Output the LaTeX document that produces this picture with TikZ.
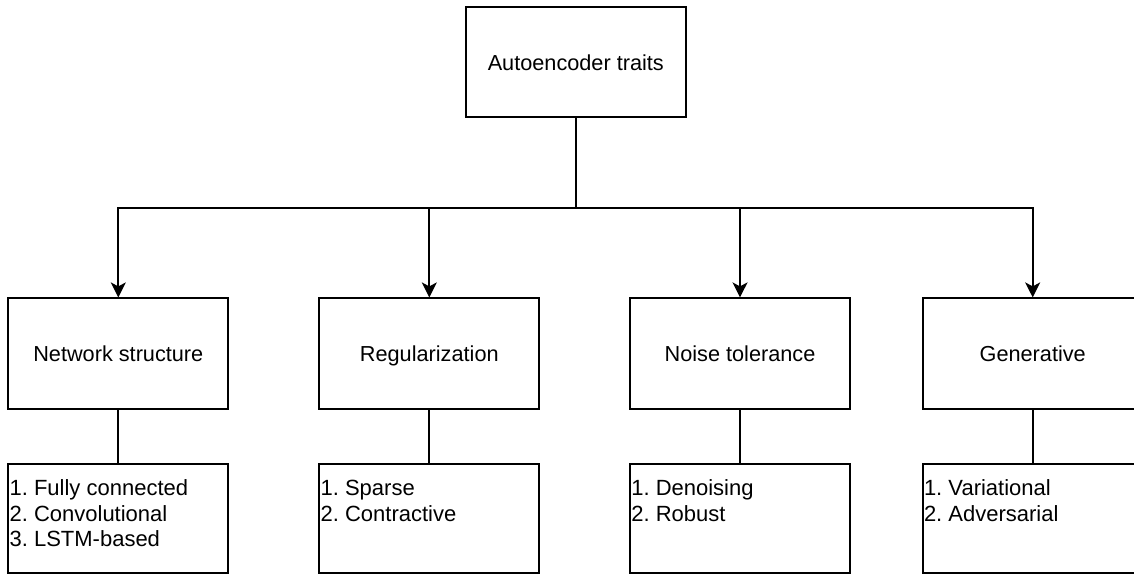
\documentclass[tikz,border=0pt]{standalone}
\usepackage{fontspec}
\setmainfont{Liberation Sans}
\frenchspacing
\usetikzlibrary{arrows.meta,calc}
\begin{document}
\begin{tikzpicture}[x=1pt,y=-1pt,
  box/.style={draw=black, line width=1.8pt, minimum width=220pt, inner sep=0pt, font=\fontsize{21.7}{25}\selectfont},
  midbox/.style={box, minimum height=111pt, text height=18pt, text depth=2pt},
  listbox/.style={box, minimum height=109pt},
  listtext/.style={anchor=north west, inner sep=0pt, align=left, font=\fontsize{22}{25.3}\selectfont},
  conn/.style={line width=1.8pt, -{Stealth[length=15pt,width=15pt,inset=4pt]}},
  link/.style={line width=1.8pt}]
\useasboundingbox (0,0) rectangle (1134,574);
\clip (0,0) rectangle (1134,574);
\node[box, minimum height=110pt, text height=18pt, text depth=2pt] (top) at (575.8,62) {Autoencoder traits};
\node[midbox] (c1) at (118.3,353.8) {Network structure};
\node[midbox] (c2) at (429.3,353.8) {Regularization};
\node[midbox] (c3) at (740,353.8) {Noise tolerance};
\node[midbox] (c4) at (1032.7,353.8) {Generative};
\node[listbox] (l1) at (118.3,518.5) {};
\node[listbox] (l2) at (429.3,518.5) {};
\node[listbox] (l3) at (740,518.5) {};
\node[listbox] (l4) at (1032.7,518.5) {};
\node[listtext] (t1) at ($(l1.north west)+(2,15.6)$) {\rule{0pt}{17pt}1. Fully connected\\2. Convolutional\\3. LSTM-based};
\node[listtext] (t2) at ($(l2.north west)+(2,15.6)$) {\rule{0pt}{17pt}1. Sparse\\2. Contractive};
\node[listtext] (t3) at ($(l3.north west)+(2,15.6)$) {\rule{0pt}{17pt}1. Denoising\\2. Robust};
\node[listtext] (t4) at ($(l4.north west)+(2,15.6)$) {\rule{0pt}{17pt}1. Variational\\2. Adversarial};
\coordinate (j) at (575.8,207.7);
\draw[link] (top.south) -- (j);
\foreach \c in {c1,c2,c3,c4} {
  \draw[conn] (j) -| (\c.north);
}
\draw[link] (c1.south) -- (l1.north);
\draw[link] (c2.south) -- (l2.north);
\draw[link] (c3.south) -- (l3.north);
\draw[link] (c4.south) -- (l4.north);
\end{tikzpicture}
\end{document}
